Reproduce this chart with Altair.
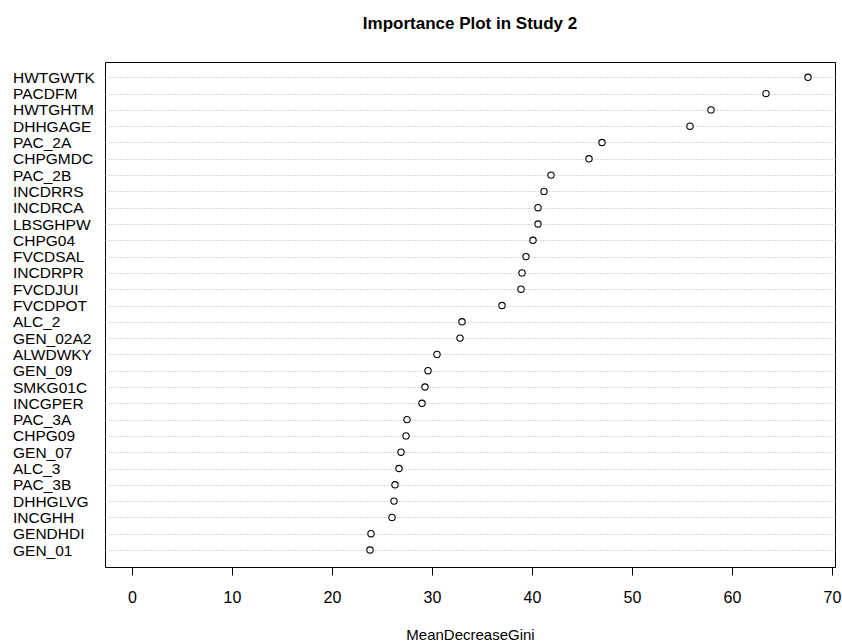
import altair as alt
import pandas as pd

variables = [
    "HWTGWTK", "PACDFM", "HWTGHTM", "DHHGAGE", "PAC_2A", "CHPGMDC", "PAC_2B",
    "INCDRRS", "INCDRCA", "LBSGHPW", "CHPG04", "FVCDSAL", "INCDRPR", "FVCDJUI",
    "FVCDPOT", "ALC_2", "GEN_02A2", "ALWDWKY", "GEN_09", "SMKG01C", "INCGPER",
    "PAC_3A", "CHPG09", "GEN_07", "ALC_3", "PAC_3B", "DHHGLVG", "INCGHH",
    "GENDHDI", "GEN_01",
]
gini = [
    67.6, 63.4, 57.9, 55.8, 47.0, 45.7, 41.9,
    41.2, 40.6, 40.6, 40.1, 39.4, 39.0, 38.9,
    37.0, 33.0, 32.8, 30.5, 29.6, 29.3, 29.0,
    27.5, 27.4, 26.9, 26.7, 26.3, 26.2, 26.0,
    23.9, 23.8,
]
x_ticks = [0, 10, 20, 30, 40, 50, 60, 70]

df = pd.DataFrame({"variable": variables, "MeanDecreaseGini": gini})

FONT = "Liberation Sans"

points = alt.Chart(df).mark_point(
    shape="circle", filled=False, fill="white", fillOpacity=1,
    stroke="black", strokeWidth=1.1, size=40, opacity=1,
).encode(
    x=alt.X(
        "MeanDecreaseGini:Q",
        scale=alt.Scale(domain=[-2.7, 70.3], nice=False, zero=False),
        axis=alt.Axis(
            values=x_ticks, grid=False, domain=False,
            ticks=True, tickSize=8, tickColor="black", tickWidth=1,
            labelFont=FONT, labelFontSize=16, labelColor="black",
            labelBaseline="alphabetic", labelPadding=27,
            title="MeanDecreaseGini", titleFont=FONT, titleFontSize=15,
            titleFontWeight="normal", titleColor="black",
            titleBaseline="alphabetic", titleY=72, titleX=365,
        ),
    ),
    y=alt.Y(
        "variable:N",
        sort=variables,
        scale=alt.Scale(type="point", range=[15.3, 488], padding=0),
        axis=alt.Axis(
            title=None, domain=False, ticks=False, tickSize=0,
            grid=True, gridColor="#b4b4b4", gridDash=[1, 2], gridWidth=1,
            labelAlign="left", labelBaseline="middle", labelPadding=92.5,
            labelFont=FONT, labelFontSize=15.5, labelColor="black",
        ),
    ),
)

chart = points.properties(
    width=730,
    height=505,
    title=alt.TitleParams(
        "Importance Plot in Study 2", anchor="middle", font=FONT,
        fontSize=17, fontWeight="bold", color="black",
        baseline="alphabetic", offset=33, dy=17,
    ),
    autosize=alt.AutoSizeParams(type="none"),
    padding={"left": 105, "top": 62, "right": 7, "bottom": 76},
).configure(
    background="white",
    view=alt.ViewConfig(stroke="black", strokeWidth=1),
)

chart.save("out.html", embed_options={"renderer": "svg", "actions": False})
